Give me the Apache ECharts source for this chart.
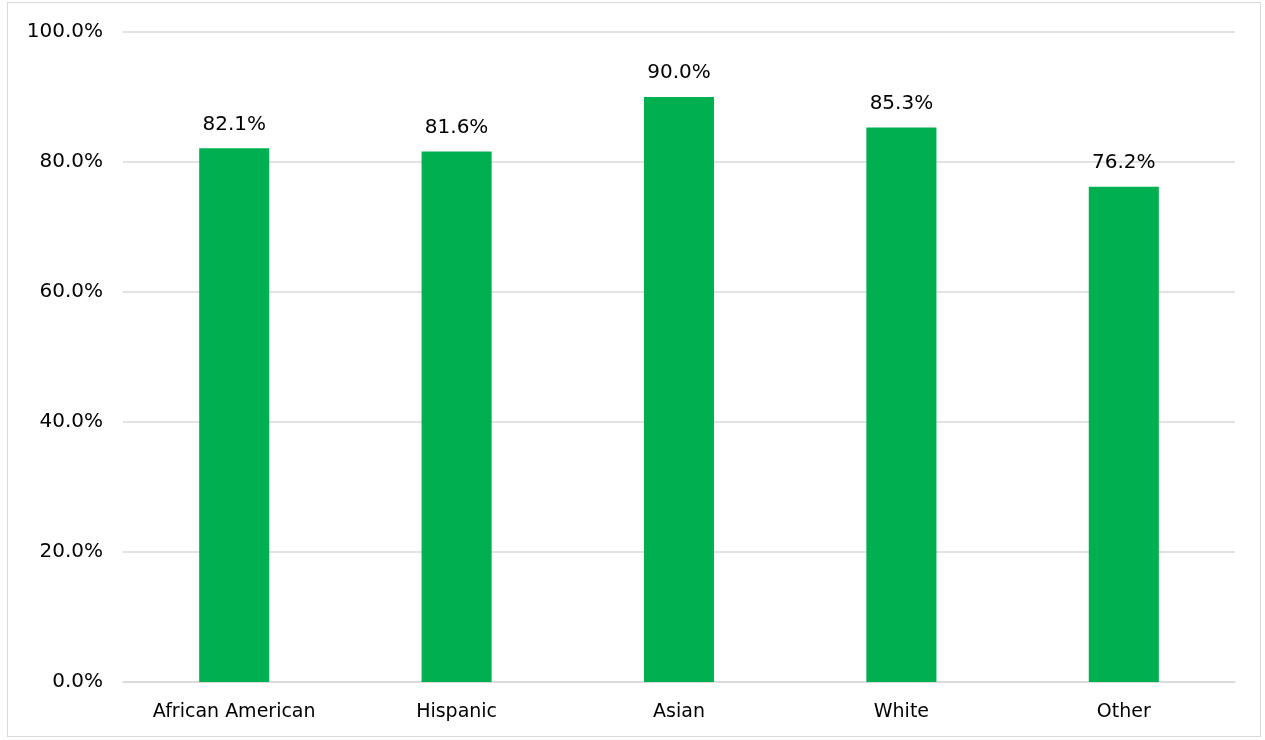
<!DOCTYPE html>
<html><head><meta charset="utf-8">
<script src="https://cdn.jsdelivr.net/npm/echarts@6/dist/echarts.min.js"></script>
<style>html,body{margin:0;padding:0;background:#fff}#c{width:1265px;height:740px}
#frame{position:absolute;left:7px;top:2px;width:1254px;height:735px;border:1px solid #d9d9d9;box-sizing:border-box;pointer-events:none}</style>
</head><body><div id="c"></div><div id="frame"></div>
<script>
const categories = ['African American','Hispanic','Asian','White','Other'];
const values = [82.1, 81.6, 90.0, 85.3, 76.2];
const yTicks = [0, 20, 40, 60, 80, 100];
const chart = echarts.init(document.getElementById('c'));
const font = '"DejaVu Sans", sans-serif';
chart.setOption({
  animation:false,
  grid:{left:123,right:30,top:32,bottom:58},
  xAxis:{type:'category',data:categories,
    axisLine:{lineStyle:{color:'#d9d9d9',width:1.5}},axisTick:{show:false},
    axisLabel:{color:'#000',fontSize:19,fontFamily:font,margin:21}},
  yAxis:{type:'value',min:0,max:100,interval:20,
    axisLine:{show:false},axisTick:{show:false},
    splitLine:{lineStyle:{color:'#d9d9d9',width:1.5}},
    axisLabel:{color:'#000',fontSize:20,fontFamily:font,margin:20,formatter:v=>v.toFixed(1)+'%'}},
  series:[{type:'bar',data:values,barWidth:'31.5%',itemStyle:{color:'#00b050'},
    label:{show:true,position:'top',distance:14,color:'#000',fontSize:20,fontFamily:font,formatter:p=>p.value.toFixed(1)+'%'}}]
});
</script></body></html>
